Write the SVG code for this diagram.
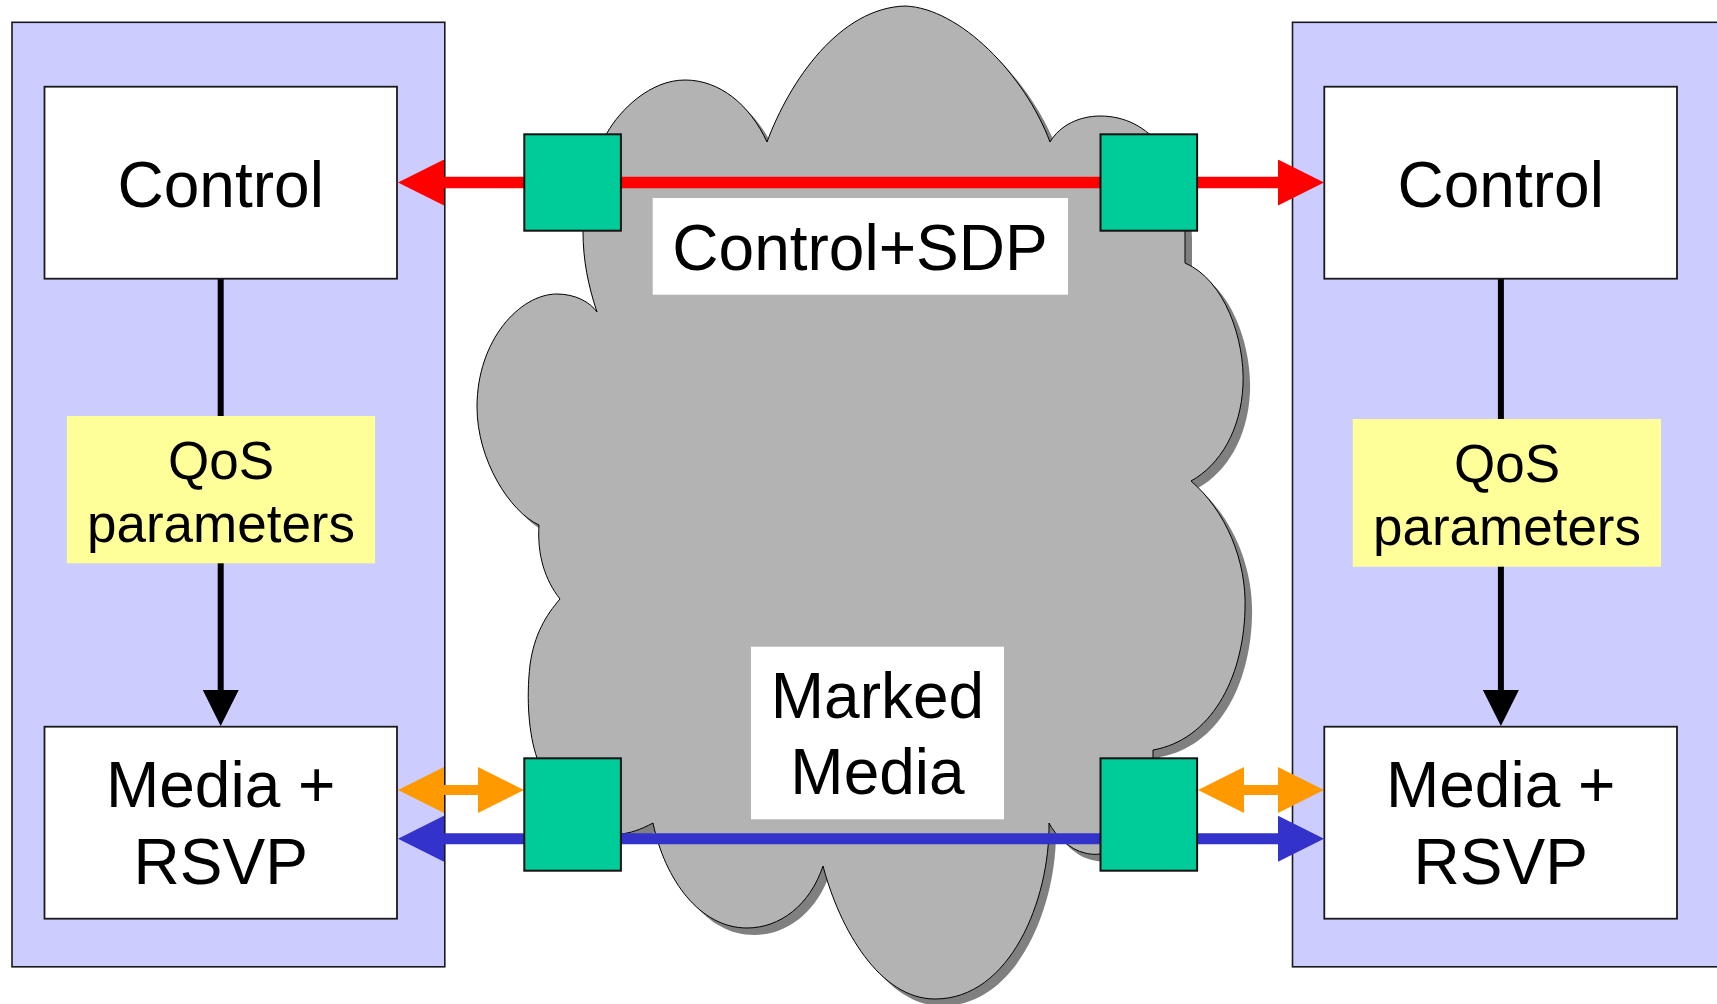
<svg xmlns="http://www.w3.org/2000/svg" width="1717" height="1004" viewBox="0 0 1717 1004">
<style>
.panel{fill:#ccccff;stroke:#1a1a1a;stroke-width:1.6}
.box{fill:#ffffff;stroke:#1a1a1a;stroke-width:1.8}
.qos{fill:#ffff99;stroke:none}
.lbl{fill:#ffffff;stroke:none}
.port{fill:#00cc99;stroke:#111;stroke-width:2}
.t64{font-family:"Liberation Sans",Arial,sans-serif;font-size:64px;fill:#000;text-anchor:middle}
.t53{font-family:"Liberation Sans",Arial,sans-serif;font-size:53px;fill:#000;text-anchor:middle}
.cloud{fill:#b3b3b3;stroke:#000;stroke-width:1}
.shadow{fill:#808080;stroke:none}
</style>
<defs>
<marker id="hRed" markerUnits="userSpaceOnUse" viewBox="0 0 46 46" refX="1" refY="23" markerWidth="46" markerHeight="46" orient="auto-start-reverse"><path d="M0,0 L46,23 L0,46 Z" fill="#ff0000"/></marker>
<marker id="hBlue" markerUnits="userSpaceOnUse" viewBox="0 0 46 46" refX="1" refY="23" markerWidth="46" markerHeight="46" orient="auto-start-reverse"><path d="M0,0 L46,23 L0,46 Z" fill="#3333cc"/></marker>
<marker id="hOrange" markerUnits="userSpaceOnUse" viewBox="0 0 46 46" refX="1" refY="23" markerWidth="46" markerHeight="46" orient="auto-start-reverse"><path d="M0,0 L46,23 L0,46 Z" fill="#ff9900"/></marker>
<marker id="hBlack" markerUnits="userSpaceOnUse" viewBox="0 0 36 36" refX="1" refY="18" markerWidth="36" markerHeight="36" orient="auto"><path d="M0,0 L36,18 L0,36 Z" fill="#000"/></marker>
<path id="cloudPath" d="M767,142 C790,80 840,8 905,6 C960,8 1025,75 1050,142 C1060,125 1080,116 1100,116 C1150,116 1185,160 1185,231 L1185,263 C1225,280 1245,340 1243,385 C1241,430 1220,465 1191,481 C1225,510 1247,560 1245,610 C1243,680 1210,740 1153,750 L1153,770 C1150,840 1110,860 1085,853 C1070,850 1055,835 1049,823 C1050,900 1010,999 935,999 C880,999 840,930 823,866 C810,905 780,928 747,928 C700,928 665,880 653,823 C640,830 630,833 621,834 C580,840 545,800 537,758 C529,735 526,700 530,665 C534,635 546,615 560,599 C545,580 537,555 539,525 C510,512 477,460 477,407 C477,340 520,294 557,294 C575,294 590,302 597,312 C588,285 583,260 583,231 C583,190 590,160 607,133 C620,110 650,80 685,80 C720,80 750,105 767,142 Z"/>
</defs>

<g id="panel-left"><rect class="panel" x="12" y="22.3" width="432.8" height="944.5"/></g>
<g id="panel-right"><rect class="panel" x="1292.5" y="22.3" width="440" height="944.5"/></g>

<g id="cloud">
<use href="#cloudPath" class="shadow" transform="translate(7,7)"/>
<use href="#cloudPath" class="cloud"/>
</g>

<g id="label-control-sdp">
<rect class="lbl" x="652.7" y="198" width="415.3" height="96.7"/>
<text class="t64" x="860" y="270">Control+SDP</text>
</g>
<g id="label-marked-media">
<rect class="lbl" x="751" y="646.7" width="253" height="172.6"/>
<text class="t64" x="877.5" y="718">Marked</text>
<text class="t64" x="877.5" y="794">Media</text>
</g>

<g id="connectors" fill="none">
<line x1="443" y1="182.5" x2="1279" y2="182.5" stroke="#ff0000" stroke-width="11.7" marker-start="url(#hRed)" marker-end="url(#hRed)"/>
<line x1="443" y1="838.7" x2="1279" y2="838.7" stroke="#3333cc" stroke-width="11" marker-start="url(#hBlue)" marker-end="url(#hBlue)"/>
<line x1="443" y1="790" x2="479" y2="790" stroke="#ff9900" stroke-width="10" marker-start="url(#hOrange)" marker-end="url(#hOrange)"/>
<line x1="1243" y1="790" x2="1279" y2="790" stroke="#ff9900" stroke-width="10" marker-start="url(#hOrange)" marker-end="url(#hOrange)"/>
<line x1="220.7" y1="278" x2="220.7" y2="417" stroke="#000" stroke-width="6"/>
<line x1="220.7" y1="562" x2="220.7" y2="691" stroke="#000" stroke-width="6" marker-end="url(#hBlack)"/>
<line x1="1500.9" y1="278" x2="1500.9" y2="420" stroke="#000" stroke-width="6"/>
<line x1="1500.9" y1="565" x2="1500.9" y2="691" stroke="#000" stroke-width="6" marker-end="url(#hBlack)"/>
</g>

<g id="port-top-left"><rect class="port" x="524.3" y="134.3" width="96.6" height="96.4"/></g>
<g id="port-top-right"><rect class="port" x="1100.5" y="134.3" width="96.6" height="96.4"/></g>
<g id="port-bottom-left"><rect class="port" x="524.3" y="758.3" width="96.6" height="112.4"/></g>
<g id="port-bottom-right"><rect class="port" x="1100.5" y="758.3" width="96.6" height="112.4"/></g>

<g id="control-left">
<rect class="box" x="44.5" y="86.7" width="352.5" height="192"/>
<text class="t64" x="220.7" y="207">Control</text>
</g>
<g id="control-right">
<rect class="box" x="1324.3" y="86.7" width="352.7" height="192"/>
<text class="t64" x="1500.7" y="207">Control</text>
</g>
<g id="qos-left">
<rect class="qos" x="66.9" y="416" width="308.2" height="147.3"/>
<text class="t53" x="221" y="478.7">QoS</text>
<text class="t53" x="221" y="541.7">parameters</text>
</g>
<g id="qos-right">
<rect class="qos" x="1352.8" y="419" width="308.2" height="147.7"/>
<text class="t53" x="1507" y="481.5">QoS</text>
<text class="t53" x="1507" y="544.5">parameters</text>
</g>
<g id="media-left">
<rect class="box" x="44.5" y="726.7" width="352.5" height="192"/>
<text class="t64" x="220.7" y="807">Media +</text>
<text class="t64" x="220.7" y="884">RSVP</text>
</g>
<g id="media-right">
<rect class="box" x="1324.3" y="726.7" width="352.7" height="192"/>
<text class="t64" x="1500.7" y="807">Media +</text>
<text class="t64" x="1500.7" y="884">RSVP</text>
</g>
</svg>
